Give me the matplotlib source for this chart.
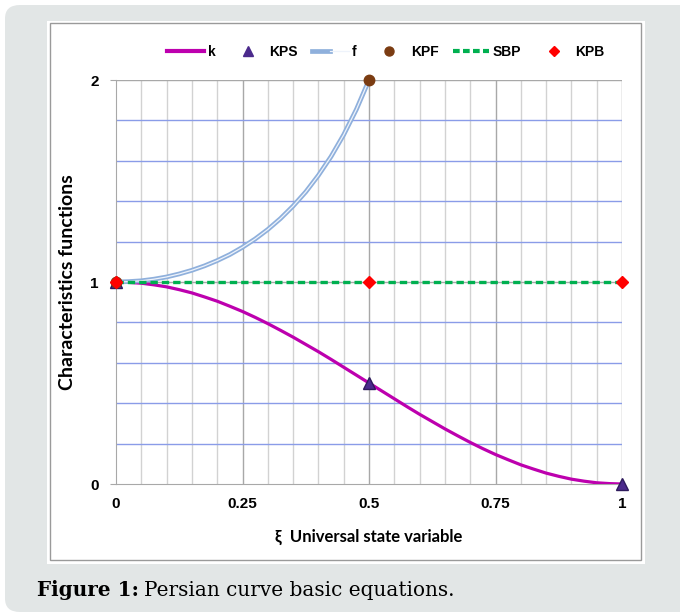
import matplotlib
matplotlib.use("Agg")
import matplotlib.pyplot as plt
from matplotlib.patches import FancyBboxPatch, Rectangle
from matplotlib.lines import Line2D
from matplotlib.legend_handler import HandlerTuple

# values
xi = [0.0, 0.025, 0.05, 0.075, 0.1, 0.125, 0.15, 0.175, 0.2, 0.225, 0.25,
      0.275, 0.3, 0.325, 0.35, 0.375, 0.4, 0.425, 0.45, 0.475, 0.5,
      0.525, 0.55, 0.575, 0.6, 0.625, 0.65, 0.675, 0.7, 0.725, 0.75,
      0.775, 0.8, 0.825, 0.85, 0.875, 0.9, 0.925, 0.95, 0.975, 1.0]
k = [1.0, 0.998, 0.994, 0.986, 0.976, 0.962, 0.946, 0.926, 0.905, 0.880, 0.854,
     0.825, 0.794, 0.761, 0.727, 0.691, 0.655, 0.617, 0.578, 0.539, 0.5,
     0.461, 0.422, 0.383, 0.345, 0.309, 0.273, 0.239, 0.206, 0.175, 0.146,
     0.120, 0.095, 0.074, 0.054, 0.038, 0.024, 0.014, 0.006, 0.002, 0.0]
xi_f = xi[:21]
f = [1.0, 1.002, 1.006, 1.014, 1.025, 1.040, 1.058, 1.080, 1.106, 1.136, 1.172,
     1.213, 1.260, 1.314, 1.376, 1.446, 1.528, 1.621, 1.729, 1.854, 2.0]
kps_x, kps_y = [0.0, 0.5, 1.0], [1.0, 0.5, 0.0]
kpf_x, kpf_y = [0.0, 0.5], [1.0, 2.0]
sbp_x, sbp_y = [0.0, 1.0], [1.0, 1.0]
kpb_x, kpb_y = [0.0, 0.5, 1.0], [1.0, 1.0, 1.0]
xticks = [0, 0.25, 0.5, 0.75, 1]
xticklabels = ["0", "0.25", "0.5", "0.75", "1"]
yticks = [0, 1, 2]
labels = ["k", "KPS", "f", "KPF", "SBP", "KPB"]

W, H = 680, 614
fig = plt.figure(figsize=(6.8, 6.14), dpi=100)

# grey panel + white chart box with thin grey frame
fig.patches.append(FancyBboxPatch((5 / W, 2 / H), 1.1, 1 - 7 / H,
                                  boxstyle="round,pad=0,rounding_size=0.022",
                                  transform=fig.transFigure, fc="#e2e6e6",
                                  ec="none", zorder=-4))
fig.patches.append(Rectangle((47 / W, 1 - 564 / H), 598 / W, 543 / H,
                             transform=fig.transFigure, fc="white",
                             ec="none", zorder=-3))
fig.patches.append(Rectangle((50 / W, 1 - 560 / H), 591 / W, 537 / H,
                             transform=fig.transFigure, fc="none",
                             ec="#9a9a9a", lw=1, zorder=-2))

ax = fig.add_axes([116 / W, 1 - 484 / H, 506 / W, 404 / H])
ax.set_xlim(0, 1)
ax.set_ylim(0, 2)
ax.patch.set_alpha(0)

# grid
for i in range(1, 20):
    x = i * 0.05
    c = "#a8a8a8" if i % 5 == 0 else "#d2d2d2"
    ax.axvline(x, color=c, lw=1, zorder=0)
ax.axvline(1, color="#a8a8a8", lw=1, zorder=0)
for y in [0.2, 0.4, 0.6, 0.8, 1.2, 1.4, 1.6, 1.8]:
    ax.axhline(y, color="#8a9ce8", lw=1, zorder=0)
ax.axhline(1, color="#a8a8a8", lw=1, zorder=0)
ax.axhline(2, color="#a8a8a8", lw=1, zorder=0)

for s in ["top", "right"]:
    ax.spines[s].set_visible(False)
for s in ["left", "bottom"]:
    ax.spines[s].set_color("#a8a8a8")

ax.plot(xi, k, color="#bd00ae", lw=2.3, zorder=3)
ax.plot(xi_f, f, color="#8fb0dc", lw=3.4, zorder=3)
ax.plot(xi_f, f, color="#eef3fb", lw=0.9, zorder=3)
ax.plot(sbp_x, sbp_y, color="#00b050", lw=2.4, dashes=(2.2, 1.2), zorder=4)
ax.plot(kps_x, kps_y, ls="none", marker="^", ms=8, color="#4b2a8c",
        mec="#2e1a5c", zorder=5, clip_on=False)
ax.plot(kpf_x, kpf_y, ls="none", marker="o", ms=7.5, color="#7b3c12",
        zorder=5, clip_on=False)
ax.plot(kpb_x, kpb_y, ls="none", marker="D", ms=6.5, color="#ff0000",
        zorder=6, clip_on=False)

ax.set_xticks(xticks)
ax.set_xticklabels(xticklabels)
ax.set_yticks(yticks)
ax.tick_params(axis="x", length=0, pad=9)
ax.tick_params(axis="y", length=4.5, color="#a8a8a8", pad=8)
for lab in ax.get_xticklabels() + ax.get_yticklabels():
    lab.set_fontfamily("Liberation Sans")
    lab.set_fontweight("bold")
    lab.set_fontsize(11)

ax.set_xlabel("ξ  Universal state variable", fontfamily="Lato",
              fontweight="bold", fontsize=12, labelpad=13)
ax.set_ylabel("Characteristics functions", fontfamily="Lato",
              fontweight="bold", fontsize=14, labelpad=10)

h_k = Line2D([], [], color="#bd00ae", lw=3)
h_kps = Line2D([], [], ls="none", marker="^", ms=6.5, color="#4b2a8c")
h_f = (Line2D([], [], color="#8fb0dc", lw=3.4),
       Line2D([], [], color="#eef3fb", lw=0.9))
h_kpf = Line2D([], [], ls="none", marker="o", ms=6.5, color="#7b3c12")
h_sbp = Line2D([], [], color="#00b050", lw=3, dashes=(1.6, 0.8))
h_kpb = Line2D([], [], ls="none", marker="D", ms=5.5, color="#ff0000")
fig.legend([h_k, h_kps, h_f, h_kpf, h_sbp, h_kpb], labels,
           handler_map={tuple: HandlerTuple(ndivide=None, pad=0)},
           loc="center", bbox_to_anchor=(386 / W, 1 - 52 / H), ncol=6,
           frameon=False, handlelength=2.65, handletextpad=0.25,
           columnspacing=1.0, borderpad=0,
           prop={"family": ["Liberation Sans Narrow", "Liberation Sans"],
                 "weight": "bold", "size": 10})

# caption: bold lead-in then regular text right after it
cap_y = 1 - 590 / H
t1 = fig.text(37 / W, cap_y, "Figure 1:", fontfamily="DejaVu Serif",
              fontweight="bold", fontsize=14.4, va="center")
fig.canvas.draw()
bb = t1.get_window_extent(fig.canvas.get_renderer())
fig.text((bb.x1 + 5) / W, cap_y, "Persian curve basic equations.",
         fontfamily="DejaVu Serif", fontsize=14.4, va="center")

fig.savefig("out.png", dpi=100)
